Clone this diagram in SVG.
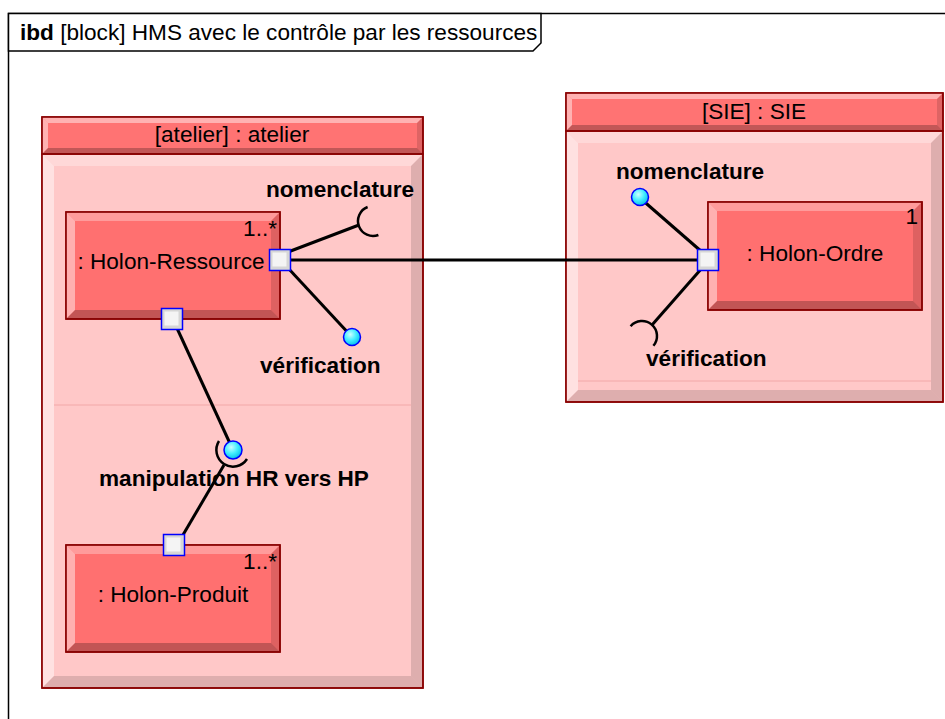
<svg xmlns="http://www.w3.org/2000/svg" width="945" height="719" viewBox="0 0 945 719">
<defs>
<radialGradient id="ballg" cx="0.4" cy="0.35" r="0.7">
<stop offset="0" stop-color="#CCFFFF"/>
<stop offset="0.5" stop-color="#44EEFF"/>
<stop offset="1" stop-color="#00B8E8"/>
</radialGradient>
<style>
.frame{fill:none;stroke:#000;stroke-width:1.5}
.tab{fill:#fff;stroke:#000;stroke-width:1.5}
.body{fill:#FFC8C8;stroke:#8B0000;stroke-width:1.5}
.head{fill:#FF7373;stroke:#8B0000;stroke-width:1.5}
.part{fill:#FF7070;stroke:#8B0000;stroke-width:1.5}
.edge{fill:none;stroke:#8B0000;stroke-width:1.5}
.hl{fill:#fff;opacity:.45}
.hl2{fill:#fff;opacity:.3}
.sh{fill:#000;opacity:.13}
.sh2{fill:#000;opacity:.24}
.comp{stroke:#F2A8A8;stroke-width:1;fill:none}
.conn{stroke:#000;stroke-width:3;fill:none}
.sock{stroke:#000;stroke-width:2.5;fill:none}
.port{fill:#D6D6D6;stroke:#0000FF;stroke-width:1.5}
.porti{fill:#F4F4F4;stroke:none}
.ball{fill:url(#ballg);stroke:#0000FF;stroke-width:1.5}
text{font-family:"Liberation Sans",Arial,Helvetica,sans-serif;font-size:22.6px;fill:#000}
.b{font-weight:bold}
.m{text-anchor:middle}
.e{text-anchor:end}
</style>
</defs>

<g id="frame">
<rect class="frame" x="8.5" y="13.5" width="1000" height="800"/>
<path class="tab" d="M8.5,13.5 H541 V43 L533,51 H8.5 Z"/>
<text x="20" y="40"><tspan class="b">ibd</tspan> [block] HMS avec le contrôle par les ressources</text>
</g>

<g id="atelier">
<rect class="body" x="42" y="154" width="381" height="534"/>
<polygon class="hl2" points="42,154 423,154 411,166 54,166"/>
<polygon class="hl" points="42,154 54,166 54,676 42,688"/>
<polygon class="sh" points="423,154 423,688 411,676 411,166"/>
<polygon class="sh" points="42,688 54,676 411,676 423,688"/>
<line class="comp" x1="54" y1="405" x2="411" y2="405"/>
<rect class="head" x="42" y="117" width="381" height="37"/>
<polygon class="hl" points="42,117 423,117 417,123 48,123"/>
<polygon class="hl" points="42,117 48,123 48,148 42,154"/>
<polygon class="sh" points="423,117 423,154 417,148 417,123"/>
<polygon class="sh2" points="42,154 48,148 417,148 423,154"/>
<rect class="edge" x="42" y="117" width="381" height="571"/>
<line class="edge" x1="42" y1="154" x2="423" y2="154"/>
<text class="m" x="232" y="142">[atelier] : atelier</text>
</g>

<g id="sie">
<rect class="body" x="566" y="131" width="377" height="271"/>
<polygon class="hl2" points="566,131 943,131 931,143 578,143"/>
<polygon class="hl" points="566,131 578,143 578,390 566,402"/>
<polygon class="sh" points="943,131 943,402 931,390 931,143"/>
<polygon class="sh" points="566,402 578,390 931,390 943,402"/>
<line class="comp" x1="578" y1="381" x2="931" y2="381"/>
<rect class="head" x="566" y="93" width="377" height="38"/>
<polygon class="hl" points="566,93 943,93 937,99 572,99"/>
<polygon class="hl" points="566,93 572,99 572,125 566,131"/>
<polygon class="sh" points="943,93 943,131 937,125 937,99"/>
<polygon class="sh2" points="566,131 572,125 937,125 943,131"/>
<rect class="edge" x="566" y="93" width="377" height="309"/>
<line class="edge" x1="566" y1="131" x2="943" y2="131"/>
<text class="m" x="754" y="119">[SIE] : SIE</text>
</g>

<g id="holon-ressource">
<rect class="part" x="66" y="212" width="214" height="107"/>
<polygon class="hl2" points="66,212 280,212 271,221 75,221"/>
<polygon class="hl" points="66,212 75,221 75,310 66,319"/>
<polygon class="sh" points="280,212 280,319 271,310 271,221"/>
<polygon class="sh2" points="66,319 75,310 271,310 280,319"/>
<rect class="edge" x="66" y="212" width="214" height="107"/>
<text class="e" x="277" y="236">1..*</text>
<text class="m" x="171" y="269">: Holon-Ressource</text>
</g>

<g id="holon-produit">
<rect class="part" x="66" y="545" width="214" height="107"/>
<polygon class="hl2" points="66,545 280,545 271,554 75,554"/>
<polygon class="hl" points="66,545 75,554 75,643 66,652"/>
<polygon class="sh" points="280,545 280,652 271,643 271,554"/>
<polygon class="sh2" points="66,652 75,643 271,643 280,652"/>
<rect class="edge" x="66" y="545" width="214" height="107"/>
<text class="e" x="277" y="569">1..*</text>
<text class="m" x="173" y="602">: Holon-Produit</text>
</g>

<g id="holon-ordre">
<rect class="part" x="708" y="202" width="214" height="108"/>
<polygon class="hl2" points="708,202 922,202 913,211 717,211"/>
<polygon class="hl" points="708,202 717,211 717,301 708,310"/>
<polygon class="sh" points="922,202 922,310 913,301 913,211"/>
<polygon class="sh2" points="708,310 717,301 913,301 922,310"/>
<rect class="edge" x="708" y="202" width="214" height="108"/>
<text class="e" x="918" y="224">1</text>
<text class="m" x="815" y="261">: Holon-Ordre</text>
</g>

<g id="connectors">
<line class="conn" x1="280" y1="260" x2="708" y2="260"/>
<line class="conn" x1="288" y1="252" x2="359" y2="225"/>
<path class="sock" d="M367.6,207 A15,15 0 0 0 378.4,235"/>
<line class="conn" x1="288" y1="268" x2="352" y2="337"/>
<line class="conn" x1="176" y1="326" x2="233" y2="450"/>
<path class="sock" d="M219,441 A16.5,16.5 0 0 0 247,459"/>
<line class="conn" x1="224" y1="465" x2="180" y2="540"/>
<line class="conn" x1="702" y1="252" x2="640" y2="198"/>
<line class="conn" x1="702" y1="268" x2="652" y2="325"/>
<path class="sock" d="M630.6,326.3 A15,15 0 0 1 653.4,345.8"/>
</g>

<g id="ports">
<rect class="port" x="269.5" y="249.5" width="21" height="21"/>
<rect class="porti" x="272.5" y="252.5" width="14" height="14"/>
<rect class="port" x="161.5" y="308.5" width="21" height="21"/>
<rect class="porti" x="164.5" y="311.5" width="14" height="14"/>
<rect class="port" x="163.5" y="534.5" width="21" height="21"/>
<rect class="porti" x="166.5" y="537.5" width="14" height="14"/>
<rect class="port" x="697.5" y="249.5" width="21" height="21"/>
<rect class="porti" x="700.5" y="252.5" width="14" height="14"/>
</g>

<g id="interfaces">
<circle class="ball" cx="352" cy="337" r="8.5"/>
<circle class="ball" cx="233" cy="450" r="9"/>
<circle class="ball" cx="640" cy="197" r="8.5"/>
<text class="b" x="266" y="197">nomenclature</text>
<text class="b" x="260" y="373">vérification</text>
<text class="b" x="99" y="486">manipulation HR vers HP</text>
<text class="b" x="616" y="179">nomenclature</text>
<text class="b" x="646" y="366">vérification</text>
</g>
</svg>
